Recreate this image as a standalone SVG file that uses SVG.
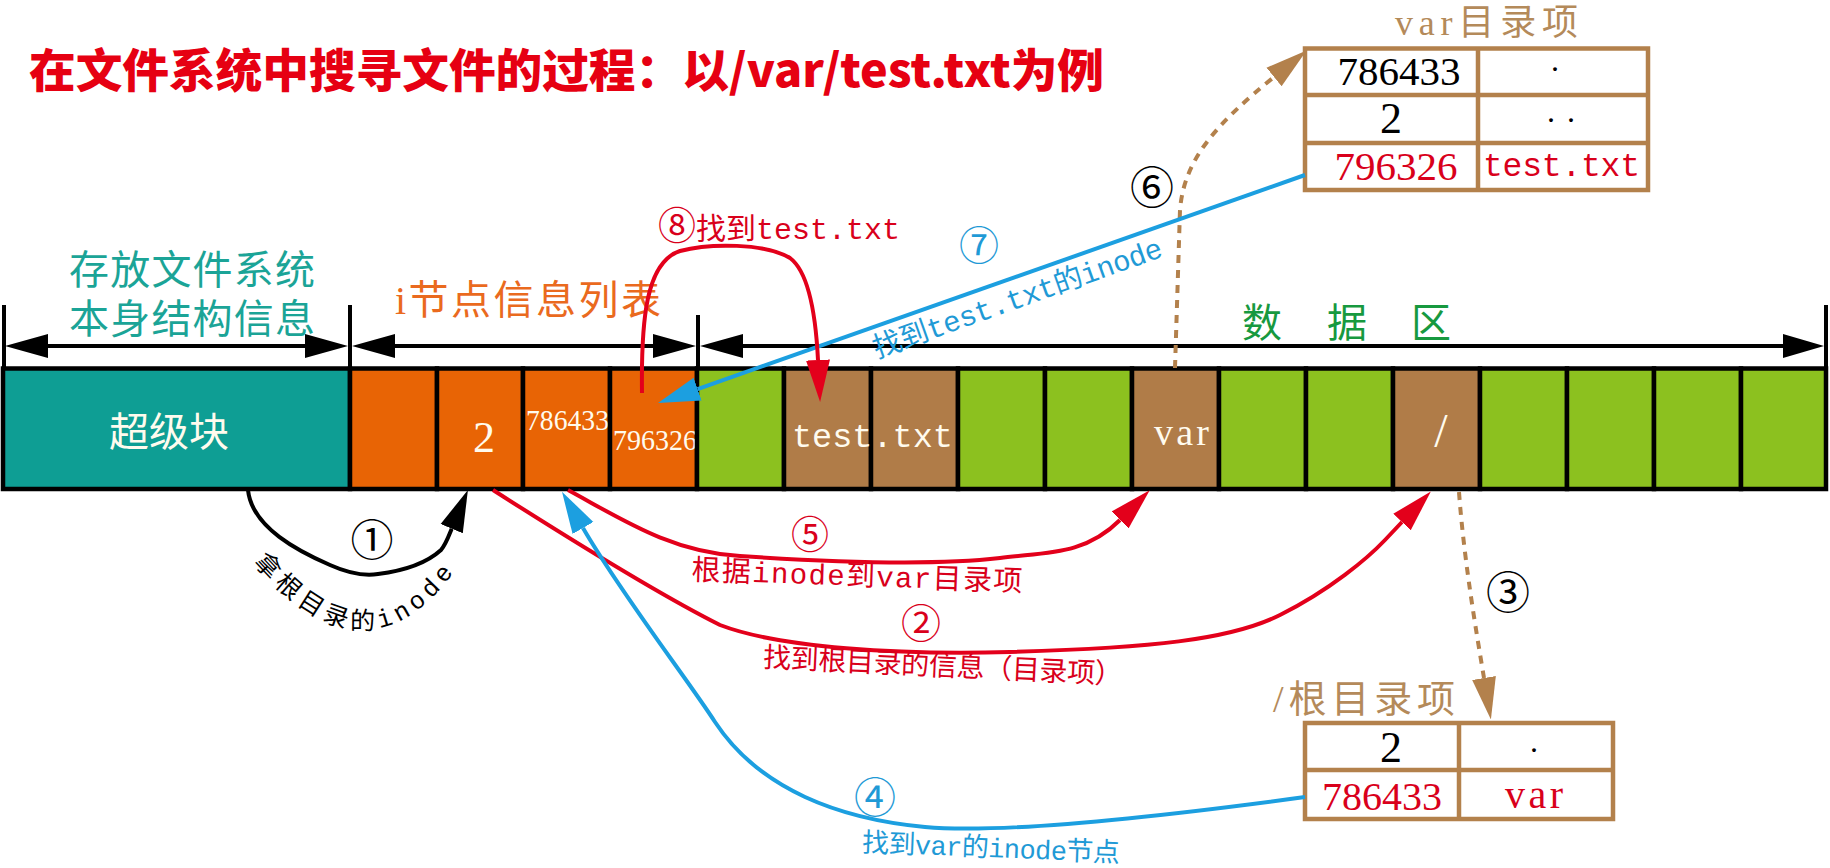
<svg xmlns="http://www.w3.org/2000/svg" width="1830" height="868" viewBox="0 0 1830 868">
<style>
.t{font-family:"Liberation Serif","Noto Sans CJK SC",serif}
.m{font-family:"Liberation Mono","Noto Sans CJK SC",monospace}
.cjk{font-family:"Noto Sans CJK SC","Liberation Serif",sans-serif}
.cell{stroke:#000;stroke-width:4.5}
.sb{fill:#0e9e94}.or{fill:#e86405}.gr{fill:#8cc11f}.br{fill:#b07c48}
.wt{fill:#fffbee}
.tab{fill:none;stroke:#b3814c;stroke-width:4.5}
.dim{stroke:#000;stroke-width:4;fill:none}
.red{fill:#d9001b}.blue{fill:#1f9ad6}.blk{fill:#000}.brt{fill:#b48a5a}
.cr{fill:none;stroke:#e3001b;stroke-width:4}
.cb{fill:none;stroke:#1c9fe0;stroke-width:4}
.ck{fill:none;stroke:#000;stroke-width:4}
.cd{fill:none;stroke:#b3814c;stroke-width:4;stroke-dasharray:8 7}
</style>
<defs>
<marker id="ahR" markerUnits="userSpaceOnUse" viewBox="0 -13 42 26" markerWidth="42" markerHeight="26" refX="0" refY="0" orient="auto"><path d="M0,-12 L42,0 L0,12 z" fill="#e3001b"/></marker>
<marker id="ahB" markerUnits="userSpaceOnUse" viewBox="0 -13 42 26" markerWidth="42" markerHeight="26" refX="0" refY="0" orient="auto"><path d="M0,-12 L42,0 L0,12 z" fill="#1c9fe0"/></marker>
<marker id="ahK" markerUnits="userSpaceOnUse" viewBox="0 -13 42 26" markerWidth="42" markerHeight="26" refX="0" refY="0" orient="auto"><path d="M0,-12 L42,0 L0,12 z" fill="#000"/></marker>
<marker id="ahN" markerUnits="userSpaceOnUse" viewBox="0 -13 42 26" markerWidth="42" markerHeight="26" refX="0" refY="0" orient="auto"><path d="M0,-12 L42,0 L0,12 z" fill="#b3814c"/></marker>
<path id="arc1" d="M244,552 Q378,716 478,534"/>
</defs>

<rect width="1830" height="868" fill="#fff"/>

<g id="title">
<text class="cjk" x="29" y="87" font-size="46" font-weight="900" fill="#e60012" textLength="1075" lengthAdjust="spacingAndGlyphs">在文件系统中搜寻文件的过程：以/var/test.txt为例</text>
</g>

<g id="dimensions">
<line class="dim" x1="4" y1="305" x2="4" y2="369"/>
<line class="dim" x1="350" y1="305" x2="350" y2="369"/>
<line class="dim" x1="698" y1="315" x2="698" y2="369"/>
<line class="dim" x1="1826" y1="305" x2="1826" y2="369"/>
<line class="dim" x1="40" y1="346" x2="315" y2="346"/>
<line class="dim" x1="385" y1="346" x2="662" y2="346"/>
<line class="dim" x1="735" y1="346" x2="1790" y2="346"/>
<path d="M5,346 L48,334 L48,358 z M348,346 L305,334 L305,358 z M352,346 L395,334 L395,358 z M696,346 L653,334 L653,358 z M700,346 L743,334 L743,358 z M1824,346 L1783,334 L1783,358 z" fill="#000"/>
<text id="lbl-sys1" class="t" x="69" y="284" font-size="40" fill="#1ba497" textLength="246">存放文件系统</text>
<text id="lbl-sys2" class="t" x="69" y="333" font-size="40" fill="#1ba497" textLength="246">本身结构信息</text>
<text id="lbl-inode" class="t" x="395" y="314" font-size="40" fill="#ea6a1e" textLength="266">i节点信息列表</text>
<text id="lbl-data" class="cjk" x="1242 1327 1411" y="337" font-size="40" fill="#17993f">数据区</text>
</g>

<g id="superblock">
<rect class="cell sb" x="3" y="368.5" width="347" height="120.5"/>
<text class="cjk wt" x="169" y="446" font-size="40" text-anchor="middle">超级块</text>
</g>
<g id="inode-cells">
<rect id="ic1" class="cell or" x="350" y="368.5" width="87" height="120.5"/>
<g id="ic2"><rect class="cell or" x="437" y="368.5" width="86" height="120.5"/><text class="t wt" x="484" y="452" font-size="44" text-anchor="middle">2</text></g>
<g id="ic3"><rect class="cell or" x="523" y="368.5" width="87" height="120.5"/><text class="t wt" x="526" y="430" font-size="30" textLength="83" lengthAdjust="spacingAndGlyphs">786433</text></g>
<g id="ic4"><rect class="cell or" x="610" y="368.5" width="87" height="120.5"/><text class="t wt" x="613" y="450" font-size="30" textLength="84" lengthAdjust="spacingAndGlyphs">796326</text></g>
</g>
<g id="data-cells">
<rect id="d1" class="cell gr" x="697" y="368.5" width="87" height="120.5"/>
<rect id="d2" class="cell br" x="784" y="368.5" width="87" height="120.5"/>
<rect id="d3" class="cell br" x="871" y="368.5" width="87" height="120.5"/>
<text id="d-test" class="m wt" x="792" y="447" font-size="34" textLength="161" lengthAdjust="spacingAndGlyphs">test.txt</text>
<rect id="d4" class="cell gr" x="958" y="368.5" width="87" height="120.5"/>
<rect id="d5" class="cell gr" x="1045" y="368.5" width="87" height="120.5"/>
<g id="d6"><rect class="cell br" x="1132" y="368.5" width="87" height="120.5"/><text class="t wt" x="1154" y="445" font-size="38" textLength="55">var</text></g>
<rect id="d7" class="cell gr" x="1219" y="368.5" width="87" height="120.5"/>
<rect id="d8" class="cell gr" x="1306" y="368.5" width="87" height="120.5"/>
<g id="d9"><rect class="cell br" x="1393" y="368.5" width="87" height="120.5"/><text class="t wt" x="1441" y="447" font-size="48" text-anchor="middle">/</text></g>
<rect id="d10" class="cell gr" x="1480" y="368.5" width="87" height="120.5"/>
<rect id="d11" class="cell gr" x="1567" y="368.5" width="87" height="120.5"/>
<rect id="d12" class="cell gr" x="1654" y="368.5" width="87" height="120.5"/>
<rect id="d13" class="cell gr" x="1741" y="368.5" width="85" height="120.5"/>
</g>

<g id="var-dir">
<text class="t brt" x="1395" y="35" font-size="36" textLength="183">var目录项</text>
<rect class="tab" x="1305" y="48.5" width="343" height="141.5"/>
<line class="tab" x1="1305" y1="95" x2="1648" y2="95"/>
<line class="tab" x1="1305" y1="143" x2="1648" y2="143"/>
<line class="tab" x1="1478" y1="48.5" x2="1478" y2="190"/>
<text class="t blk" x="1399" y="85" font-size="41" text-anchor="middle">786433</text>
<text class="t blk" x="1555" y="71" font-size="32" text-anchor="middle">.</text>
<text class="t blk" x="1547" y="122" font-size="32" textLength="28">..</text>
<text class="t blk" x="1391" y="133" font-size="44" text-anchor="middle">2</text>
<text class="t red" x="1396" y="180" font-size="41" text-anchor="middle">796326</text>
<text class="m red" x="1483" y="176" font-size="33" textLength="157">test.txt</text>
</g>

<g id="root-dir">
<text class="t brt" x="1273" y="712" font-size="38" textLength="182">/根目录项</text>
<rect class="tab" x="1305" y="723" width="308" height="96"/>
<line class="tab" x1="1305" y1="770" x2="1613" y2="770"/>
<line class="tab" x1="1459" y1="723" x2="1459" y2="819"/>
<text class="t blk" x="1391" y="762" font-size="44" text-anchor="middle">2</text>
<text class="t blk" x="1534" y="752" font-size="32" text-anchor="middle">.</text>
<text class="t red" x="1382" y="810" font-size="40" text-anchor="middle">786433</text>
<text class="t red" x="1534" y="808" font-size="40" text-anchor="middle" textLength="58">var</text>
</g>

<g id="connectors">
<path id="c1" class="ck" d="M248,490 C252,528 300,552 330,565 C350,574 365,576 378,574 C410,570 430,560 441,550 C446,544 449.4,534.2 451.7,528.7" marker-end="url(#ahK)"/>
<path id="c2" class="cr" d="M493,490 C540,520 650,590 720,625 C780,648 900,655 1010,652 C1150,648 1230,640 1280,615 C1330,590 1368,558 1385,540 L1402,522" marker-end="url(#ahR)"/>
<path id="c3" class="cd" d="M1459,492 C1464,560 1476,630 1484,678" marker-end="url(#ahN)"/>
<path id="c4" class="cb" d="M1305,797 C1150,818 1000,834 925,827 C840,819 760,790 715,722 C690,683 620,592 583,528" marker-end="url(#ahB)"/>
<path id="c5" class="cr" d="M568,490 C620,518 670,552 740,556 C830,562 930,566 1000,558 C1045,552 1084,556 1120,520" marker-end="url(#ahR)"/>
<path id="c6" class="cd" d="M1175,368 L1180,210 C1184,160 1215,125 1274,77" marker-end="url(#ahN)"/>
<path id="c7" class="cb" d="M1305,175 L697.6,389.1" marker-end="url(#ahB)"/>
<path id="c8" class="cr" d="M642,393 C641,320 646,262 680,251 C710,243 765,243 790,258 C810,273 816,320 818,360" marker-end="url(#ahR)"/>
</g>

<g id="connector-labels">
<text class="t blk" x="372" y="556" font-size="43" text-anchor="middle">①</text>
<text class="m blk" font-size="25"><textPath href="#arc1" startOffset="14" textLength="244">拿根目录的inode</textPath></text>
<text class="t red" x="921" y="638" font-size="40" text-anchor="middle">②</text>
<text class="t red" transform="translate(943,665) rotate(2.7)" x="0" y="10.6" font-size="28" text-anchor="middle" textLength="360">找到根目录的信息（目录项）</text>
<text class="t blk" x="1508" y="609" font-size="44" text-anchor="middle">③</text>
<text class="t blue" x="875" y="813" font-size="42" text-anchor="middle">④</text>
<text class="m blue" transform="translate(991,847) rotate(2.3)" x="0" y="10" font-size="27" text-anchor="middle" textLength="258">找到var的inode节点</text>
<text class="t red" x="810" y="548" font-size="38" text-anchor="middle">⑤</text>
<text class="m red" transform="translate(857,575) rotate(2)" x="0" y="10.6" font-size="29" text-anchor="middle" textLength="331">根据inode到var目录项</text>
<text class="t blk" x="1152" y="204" font-size="44" text-anchor="middle">⑥</text>
<text class="t blue" x="979" y="260" font-size="40" text-anchor="middle">⑦</text>
<text class="m blue" transform="translate(1017,297) rotate(-19.6)" x="0" y="11" font-size="29" text-anchor="middle" textLength="305">找到test.txt的inode</text>
<text class="m red" x="658" y="239"><tspan font-size="38">⑧</tspan><tspan font-size="30">找到test.txt</tspan></text>
</g>
</svg>
